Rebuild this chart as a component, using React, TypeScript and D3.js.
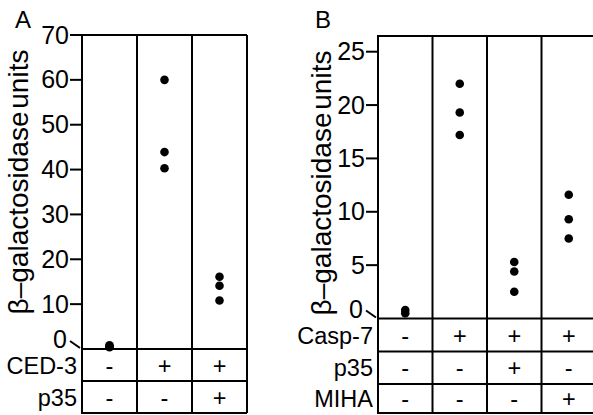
import * as d3 from "d3";

// ---- data ----
// panel A: reporter activity per condition
const condA = ["c1", "c2", "c3"];
const valuesA = [
  [0.4, 0.6, 0.8],
  [60.0, 43.9, 40.3],
  [16.1, 14.1, 10.8],
];
const ticksA = [0, 10, 20, 30, 40, 50, 60, 70];
const rowLabelsA = ["CED-3", "p35"];
const tableA = [
  ["-", "+", "+"],
  ["-", "-", "+"],
];

// panel B
const condB = ["c1", "c2", "c3", "c4"];
const valuesB = [
  [0.5, 0.8],
  [22.0, 19.3, 17.2],
  [5.3, 4.4, 2.5],
  [11.6, 9.3, 7.5],
];
const ticksB = [0, 5, 10, 15, 20, 25];
const rowLabelsB = ["Casp-7", "p35", "MIHA"];
const tableB = [
  ["-", "+", "+", "+"],
  ["-", "-", "+", "-"],
  ["-", "-", "-", "+"],
];

const yTitle = "β–galactosidase units";
const FONT = "'Liberation Sans', Arial, Helvetica, sans-serif";

type PanelProps = {
  letter: string;
  letterX: number;
  cats: string[];
  values: number[][];
  ticks: number[];
  rowLabels: string[];
  table: string[][];
  left: number;
  right: number;
  top: number;
  zeroY: number;
  valTopY: number;
  valTop: number;
  rowEdges: number[];
  titleX: number;
  titleY: number;
  topFromTick: boolean;
};

function Panel(p: PanelProps) {
  const y = d3.scaleLinear().domain([0, p.valTop]).range([p.zeroY, p.valTopY]);
  const x = d3.scaleBand().domain(p.cats).range([p.left, p.right]);
  const bottom = p.rowEdges[p.rowEdges.length - 1];
  const sw = 2;
  const tickFs = 25;
  const cellFs = 23.5;
  return (
    <g>
      <text x={p.letterX} y={28} fontSize={24} fontFamily={FONT}>
        {p.letter}
      </text>
      <text
        transform={`translate(${p.titleX},${p.titleY}) rotate(-90)`}
        textAnchor="middle"
        fontSize={28}
        fontFamily={FONT}
        wordSpacing={-5}
      >
        {yTitle}
      </text>
      {/* frame */}
      <line x1={p.topFromTick ? p.left - 12 : p.left - 1} x2={p.right} y1={p.top} y2={p.top} stroke="#000" strokeWidth={sw} />
      {p.cats.map((c) => (
        <line key={c} x1={x(c)} x2={x(c)} y1={p.top} y2={bottom} stroke="#000" strokeWidth={sw} />
      ))}
      <line x1={p.right} x2={p.right} y1={p.top} y2={bottom} stroke="#000" strokeWidth={sw} />
      {p.rowEdges.map((e, i) => (
        <line key={i} x1={p.left - 1} x2={p.right} y1={e} y2={e} stroke="#000" strokeWidth={sw} />
      ))}
      {/* ticks */}
      {p.ticks.map((t) =>
        t === 0 ? (
          <g key={t}>
            <line x1={p.left - 12} y1={y(0) - 8} x2={p.left - 2} y2={y(0) - 1} stroke="#000" strokeWidth={sw} />
            <text x={p.left - 15} y={y(0) - 1} textAnchor="end" fontSize={tickFs} fontFamily={FONT}>
              {t}
            </text>
          </g>
        ) : (
          <g key={t}>
            <line x1={p.left - 12} x2={p.left} y1={y(t)} y2={y(t)} stroke="#000" strokeWidth={sw} />
            <text x={p.left - 13} y={y(t) + 8.5} textAnchor="end" fontSize={tickFs} fontFamily={FONT}>
              {t}
            </text>
          </g>
        )
      )}
      {/* dots */}
      {p.values.map((vals, i) =>
        vals.map((v, j) => (
          <circle key={`${i}-${j}`} cx={x(p.cats[i])! + x.bandwidth() / 2} cy={y(v)} r={4.3} fill="#000" />
        ))
      )}
      {/* table */}
      {p.rowLabels.map((lab, r) => {
        const cy = (p.rowEdges[r] + p.rowEdges[r + 1]) / 2;
        return (
          <g key={lab}>
            <text x={p.left - 5} y={cy + 8.5} textAnchor="end" fontSize={cellFs} fontFamily={FONT}>
              {lab}
            </text>
            {p.table[r].map((s, i) => (
              <text
                key={i}
                x={x(p.cats[i])! + x.bandwidth() / 2}
                y={cy + 8.5}
                textAnchor="middle"
                fontSize={cellFs}
                fontFamily={FONT}
              >
                {s}
              </text>
            ))}
          </g>
        );
      })}
    </g>
  );
}

export default function App() {
  return (
    <svg width={593} height={415} style={{ position: "absolute", left: 0, top: 0, background: "#fff" }}>
      <Panel
        letter="A"
        letterX={15}
        cats={condA}
        values={valuesA}
        ticks={ticksA}
        rowLabels={rowLabelsA}
        table={tableA}
        left={82}
        right={247}
        top={35}
        zeroY={349}
        valTopY={35}
        valTop={70}
        rowEdges={[349, 381, 413]}
        titleX={28}
        titleY={182}
        topFromTick={true}
      />
      <Panel
        letter="B"
        letterX={315}
        cats={condB}
        values={valuesB}
        ticks={ticksB}
        rowLabels={rowLabelsB}
        table={tableB}
        left={378}
        right={596}
        top={36}
        zeroY={318.5}
        valTopY={51.7}
        valTop={25}
        rowEdges={[318.5, 351.5, 384, 413]}
        titleX={331}
        titleY={183}
        topFromTick={false}
      />
    </svg>
  );
}
